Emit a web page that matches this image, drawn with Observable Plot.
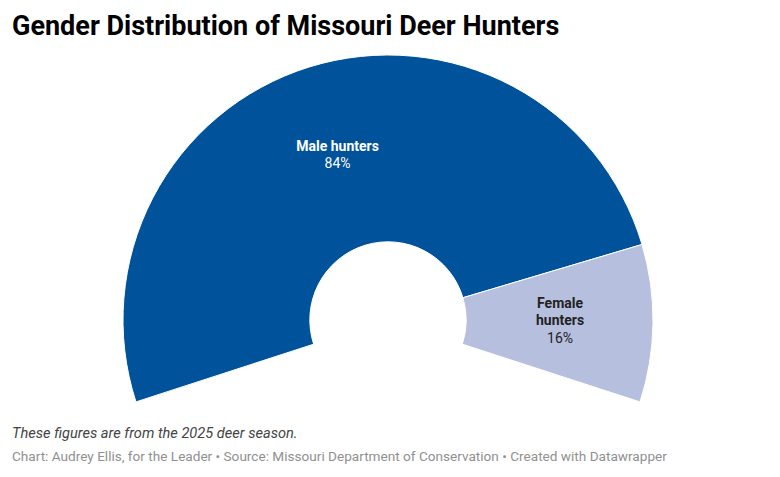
<!DOCTYPE html>
<html>
<head>
<meta charset="utf-8">
<script src="https://cdn.jsdelivr.net/npm/d3@7"></script>
<script src="https://cdn.jsdelivr.net/npm/@observablehq/plot@0.6"></script>
<style>
  html, body { margin: 0; padding: 0; background: #fff; width: 780px; height: 477px; overflow: hidden; font-family: Roboto, sans-serif; }
  #title { position: absolute; left: 12px; top: 10px; font: 700 27px Roboto, sans-serif; color: #000; }
  #chart { position: absolute; left: 0; top: 50px; }
  #note { position: absolute; left: 12px; top: 424px; font: italic 14.6px Roboto, sans-serif; color: #444; }
  #source { position: absolute; left: 12px; top: 448px; font: 13.6px Roboto, sans-serif; color: #909090; }
</style>
</head>
<body>
<div id="title">Gender Distribution of Missouri Deer Hunters</div>
<div id="chart"></div>
<div id="note">These figures are from the 2025 deer season.</div>
<div id="source">Chart: Audrey Ellis, for the Leader • Source: Missouri Department of Conservation • Created with Datawrapper</div>
<script>
// ---- data ----
const categories = ["Male hunters", "Female hunters"];
const labelText = ["Male hunters", "Female\nhunters"];
const shares = [84, 16];
const colors = ["#00529b", "#b7bfdf"];
const textColors = ["#ffffff", "#222222"];

// ---- geometry (data units: outer radius = 1) ----
const innerR = 0.295;
const outerR = 1;
const startA = -0.6 * Math.PI;
const endA = 0.6 * Math.PI;

const data = categories.map((c, i) => ({
  category: c, label: labelText[i], value: shares[i], color: colors[i], tcolor: textColors[i]
}));
const pie = d3.pie().value(d => d.value).sort(null).startAngle(startA).endAngle(endA);
const arcs = pie(data);
const rMid = (innerR + outerR) / 2;
const labels = arcs.map(a => {
  const m = (a.startAngle + a.endAngle) / 2;
  return { ...a.data, x: rMid * Math.sin(m), y: rMid * Math.cos(m), text: a.data.label + "\n" + a.data.value + "%" };
});

function donutMark(index, scales) {
  const cx = scales.x(0), cy = scales.y(0);
  const k = scales.x(1) - scales.x(0);
  const arcGen = d3.arc().innerRadius(innerR * k).outerRadius(outerR * k);
  const g = d3.create("svg:g").attr("transform", `translate(${cx},${cy})`);
  g.selectAll("path").data(arcs).join("path")
    .attr("d", arcGen)
    .attr("fill", d => d.data.color)
    .attr("stroke", "#fff")
    .attr("stroke-width", 1)
    .attr("stroke-linejoin", "round");
  return g.node();
}

const W = 780, H = 360;
const pxPerUnit = 265;
const cxPx = 388, cyPx = 270;

const plot = Plot.plot({
  width: W, height: H,
  margin: 0,
  x: { domain: [-cxPx / pxPerUnit, (W - cxPx) / pxPerUnit], range: [0, W], axis: null },
  y: { domain: [-(H - cyPx) / pxPerUnit, cyPx / pxPerUnit], range: [H, 0], axis: null },
  style: { fontFamily: "Roboto, sans-serif", background: "transparent" },
  marks: [
    donutMark,
    Plot.text(labels, {
      x: "x", y: "y", text: "text",
      fill: d => d.tcolor,
      fontSize: 14,
      lineHeight: 1.24,
      dy: -3,
      textAnchor: "middle"
    })
  ]
});
document.getElementById("chart").appendChild(plot);

// bold the category-name lines (all but the last line of each label)
plot.querySelectorAll("text").forEach(t => {
  const tspans = t.querySelectorAll("tspan");
  tspans.forEach((s, i) => { if (i < tspans.length - 1) s.style.fontWeight = "700"; });
});
</script>
</body>
</html>
